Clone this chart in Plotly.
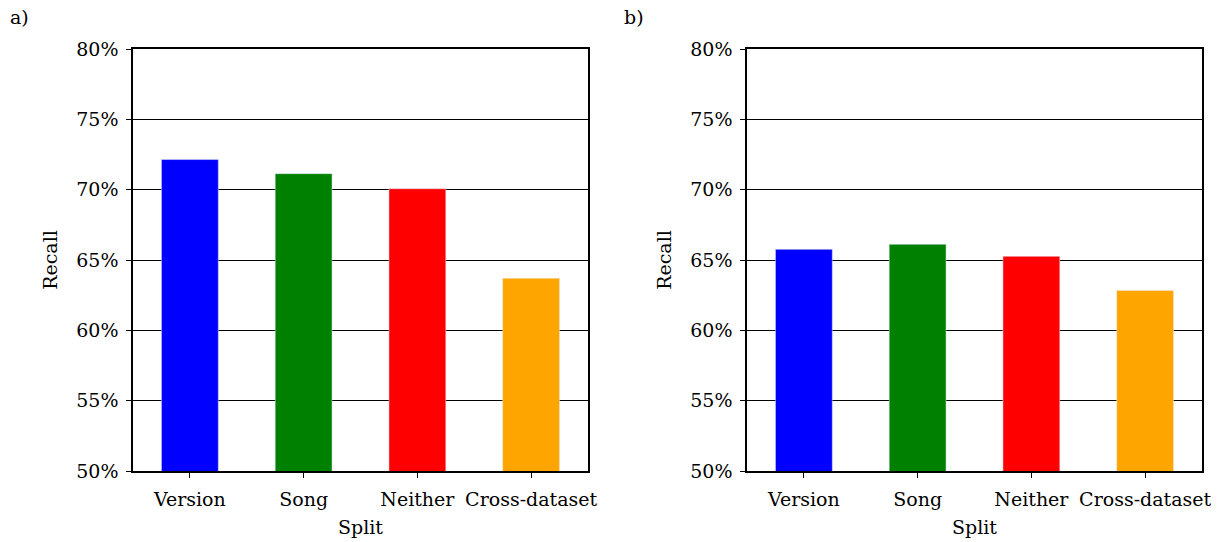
import plotly.graph_objects as go

categories = ["Version", "Song", "Neither", "Cross-dataset"]
recall_a = [72.14, 71.14, 70.07, 63.71]
recall_b = [65.76, 66.12, 65.26, 62.84]
colors = ["#0000ff", "#008000", "#ff0000", "#ffa500"]
y_ticks = [50, 55, 60, 65, 70, 75, 80]
panel_labels = ["a)", "b)"]

W, H = 1221, 542
FONT = "DejaVu Serif"
FS = 19
fig = go.Figure()
fig.add_trace(go.Bar(x=categories, y=recall_a, marker_color=colors, width=0.5,
                     xaxis="x", yaxis="y", showlegend=False))
fig.add_trace(go.Bar(x=categories, y=recall_b, marker_color=colors, width=0.5,
                     xaxis="x2", yaxis="y2", showlegend=False))

def xa(dom, anchor):
    return dict(domain=dom, anchor=anchor, range=[-0.5, 3.5], showline=True, linecolor="black",
                linewidth=1.5, mirror=True, ticks="outside", ticklen=5, tickcolor="black",
                automargin=False, ticklabelstandoff=5,
                title=dict(text="Split", font=dict(size=FS, family=FONT, color="black"), standoff=12),
                tickfont=dict(size=FS, family=FONT, color="black"), showgrid=False)

def ya(dom, anchor):
    return dict(domain=dom, anchor=anchor, range=[50, 80], tickvals=y_ticks,
                ticktext=[f"{v}%" for v in y_ticks], showline=True, linecolor="black",
                linewidth=1.5, mirror=True, ticks="outside", ticklen=5, tickcolor="black",
                automargin=False, ticklabelstandoff=4,
                showgrid=True, gridcolor="black", gridwidth=1, zeroline=False,
                title=dict(text="Recall", font=dict(size=FS, family=FONT, color="black"), standoff=14),
                tickfont=dict(size=FS, family=FONT, color="black"))

ydom = [(542 - 471) / H, (542 - 49) / H]
fig.update_layout(
    width=W, height=H, margin=dict(l=0, r=0, t=0, b=0),
    plot_bgcolor="white", paper_bgcolor="white", bargap=0.5,
    xaxis=xa([133 / W, 588 / W], "y"),
    yaxis=ya(ydom, "x"),
    xaxis2=xa([747 / W, 1202 / W], "y2"),
    yaxis2=ya(ydom, "x2"),
    font=dict(family=FONT, color="black"),
)
for lbl, xpos in zip(panel_labels, [8, 622]):
    fig.add_annotation(text=lbl, x=xpos / W, y=1 - 17 / H, xref="paper", yref="paper",
                       xanchor="left", yanchor="middle", showarrow=False,
                       font=dict(size=FS, family=FONT, color="black"))

fig.write_html("out.html")
